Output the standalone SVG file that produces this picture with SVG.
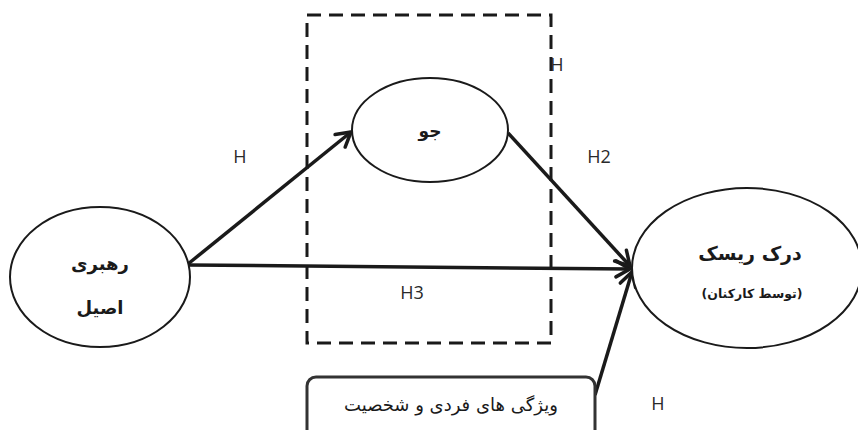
<svg xmlns="http://www.w3.org/2000/svg" width="858" height="430" viewBox="0 0 858 430">
<style>
.node{fill:#ffffff;stroke:#1a1a1a;stroke-width:2}
.conn{stroke:#1a1a1a;stroke-width:3.5;fill:none;marker-end:url(#arr)}
.fa{font-family:"DejaVu Sans","Noto Sans",sans-serif;fill:#1a1a1a;text-anchor:middle;direction:rtl}
.lbl{font-family:"Open Sans","Liberation Sans",sans-serif;font-size:18px;fill:#2a2a2a;text-anchor:middle}
</style>
<defs>
<marker id="arr" markerUnits="userSpaceOnUse" markerWidth="24" markerHeight="24" viewBox="0 0 24 24" refX="20" refY="12" orient="auto">
<path d="M6,4 L20,12 L6,20" fill="none" stroke="#1a1a1a" stroke-width="3.5" stroke-linecap="round" stroke-linejoin="miter"/>
</marker>
</defs>
<rect width="858" height="430" fill="#ffffff"/>
<g id="frame">
<rect x="307" y="15" width="244" height="328" fill="none" stroke="#1a1a1a" stroke-width="3" stroke-dasharray="14,8"/>
</g>
<g id="connectors">
<line class="conn" x1="188" y1="264" x2="351" y2="132"/>
<line class="conn" x1="188" y1="265" x2="630" y2="269"/>
<line class="conn" x1="508" y1="133" x2="630" y2="266"/>
<line class="conn" x1="595" y1="395" x2="632" y2="272"/>
</g>
<g id="node-leadership">
<ellipse class="node" cx="100" cy="277" rx="90" ry="70"/>
<text class="fa" x="100" y="270" font-size="18" font-weight="bold">رهبری</text>
<text class="fa" x="100" y="314" font-size="18" font-weight="bold">اصیل</text>
</g>
<g id="node-climate">
<ellipse class="node" cx="430" cy="130" rx="78" ry="52"/>
<text class="fa" x="430" y="137" font-size="17" font-weight="bold">جو</text>
</g>
<g id="node-risk">
<ellipse class="node" cx="747" cy="268" rx="115" ry="80"/>
<text class="fa" x="750" y="260" font-size="19" font-weight="bold">درک ریسک</text>
<text class="fa" x="752" y="298" font-size="12.5" font-weight="bold">(توسط کارکنان)</text>
</g>
<g id="node-personality">
<rect x="307" y="377" width="288" height="70" rx="9" ry="9" fill="#ffffff" stroke="#333" stroke-width="3"/>
<text class="fa" x="451" y="411" font-size="18" fill="#333">ویژگی های فردی و  شخصیت</text>
</g>
<g id="labels">
<text class="lbl" x="240" y="163">H</text>
<text class="lbl" x="557" y="71">H</text>
<text class="lbl" x="599" y="163">H2</text>
<text class="lbl" x="412" y="299">H3</text>
<text class="lbl" x="658" y="410">H</text>
</g>
</svg>
